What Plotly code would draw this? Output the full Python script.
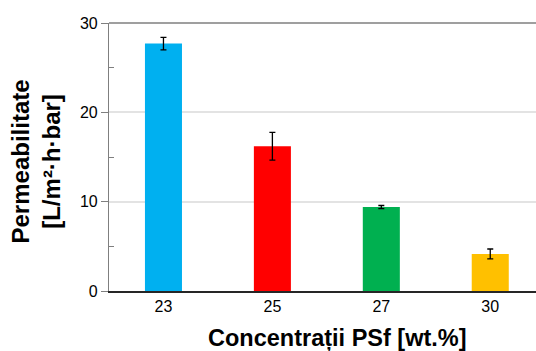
import plotly.graph_objects as go

categories = ["23", "25", "27", "30"]
values = [27.7, 16.2, 9.4, 4.15]
errors = [0.7, 1.55, 0.17, 0.55]
colors = ["#00B0F0", "#FF0000", "#00B050", "#FFC000"]
y_ticks = [0, 10, 20, 30]

fig = go.Figure()
fig.add_trace(go.Bar(
    x=list(range(len(categories))),
    y=values,
    width=0.34,
    marker=dict(color=colors, line=dict(width=0)),
    error_y=dict(type="data", array=errors, visible=True,
                 color="#000000", thickness=1.3, width=3),
))

W, H = 536, 351
L, R, T, B = 109, 0, 23, 60

fig.update_layout(
    width=W, height=H,
    margin=dict(l=L, r=R, t=T, b=B),
    plot_bgcolor="white", paper_bgcolor="white",
    showlegend=False,
    font=dict(family="Liberation Sans, Arial, sans-serif", color="#000000"),
    xaxis=dict(
        range=[-0.5, 3.42],
        tickmode="array", tickvals=list(range(len(categories))), ticktext=categories,
        ticks="", showgrid=False, showline=True, linecolor="#262626", linewidth=1.5,
        tickfont=dict(size=16, color="#000000"), zeroline=False,
    ),
    yaxis=dict(
        range=[0, 30], tickmode="array", tickvals=y_ticks,
        ticks="outside", ticklen=7, tickcolor="#7f7f7f", tickwidth=1,
        showline=True, linecolor="#7f7f7f", linewidth=1.2,
        showgrid=True, gridcolor="#e3e3e3", gridwidth=1.5,
        zeroline=False,
        tickfont=dict(size=16, color="#000000"),
        minor=dict(tickvals=[5, 15, 25], ticks="inside", ticklen=5,
                   tickcolor="#7f7f7f", showgrid=False),
    ),
)

# top border line
fig.add_shape(type="line", xref="paper", yref="paper", x0=0, x1=1, y0=1, y1=1,
              line=dict(color="#7f7f7f", width=1.5))

# axis titles
fig.add_annotation(text="<b>Concentrații PSf [wt.%]</b>", xref="paper", yref="paper",
                   x=(337.5 - L) / (W - L - R), y=-(338.5 - (H - B)) / (H - T - B),
                   xanchor="center", yanchor="middle", showarrow=False,
                   font=dict(size=23.5, family="Liberation Sans, Arial, sans-serif", color="#000000"))
fig.add_annotation(text="<b>Permeabilitate</b><br><b>[L/m²·h·bar]</b>", xref="paper", yref="paper",
                   x=-(L - 35) / (W - L - R), y=((H - B) - 161.5) / (H - T - B),
                   xanchor="center", yanchor="middle", showarrow=False, textangle=-90,
                   font=dict(size=24, family="Liberation Sans, Arial, sans-serif", color="#000000"))

fig.write_html("out.html", config={"displayModeBar": False},
               post_script="document.body.style.margin='0';document.body.style.padding='0';")
